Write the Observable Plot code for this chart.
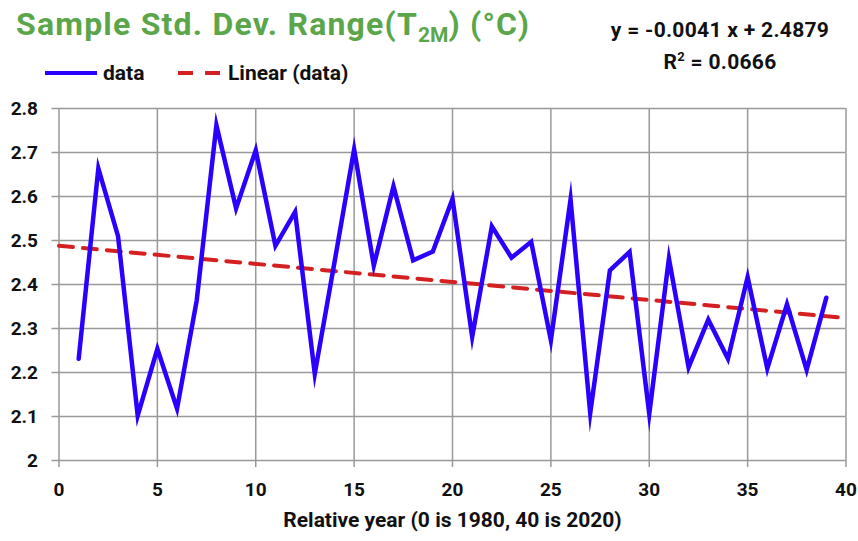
<!DOCTYPE html>
<html><head><meta charset="utf-8">
<script src="https://cdn.jsdelivr.net/npm/d3@7"></script>
<script src="https://cdn.jsdelivr.net/npm/@observablehq/plot@0.6"></script>
<style>
body{margin:0;background:#fff;font-family:"Roboto",sans-serif;}
#wrap{position:relative;width:858px;height:541px;}
#head{position:relative;height:95px;}
.title{position:absolute;left:16px;top:5px;font-size:32px;letter-spacing:1.2px;font-weight:bold;color:#5ba64a;white-space:nowrap;line-height:38px;}
.title sub{font-size:21px;vertical-align:-7px;line-height:0;letter-spacing:0;}
.eq{position:absolute;left:595px;width:250px;text-align:center;font-size:21px;letter-spacing:0.3px;font-weight:bold;color:#111;white-space:nowrap;line-height:24px;}
.leg{position:absolute;top:61px;font-size:21px;font-weight:bold;color:#111;display:flex;align-items:center;white-space:nowrap;line-height:24px;}
.leg svg{margin-right:6px;}
</style></head>
<body>
<div id="wrap">
<div id="head">
  <div class="title">Sample Std. Dev. Range(T<sub>2M</sub>) (°C)</div>
  <div class="eq" style="top:18px">y = -0.0041 x + 2.4879</div>
  <div class="eq" style="top:50px">R<sup style="font-size:13px;vertical-align:8px;line-height:0">2</sup> = 0.0666</div>
  <div class="leg" style="left:45px"><svg width="52" height="10"><line x1="0" y1="5" x2="52" y2="5" stroke="#2a00ff" stroke-width="4"/></svg>data</div>
  <div class="leg" style="left:178px"><svg width="44" height="10"><line x1="0" y1="5" x2="44" y2="5" stroke="#d42020" stroke-width="4" stroke-dasharray="15,12"/></svg>Linear (data)</div>
</div>
<div id="chart"></div>
</div>
<script>
const years = [1,2,3,4,5,6,7,8,9,10,11,12,13,14,15,16,17,18,19,20,21,22,23,24,25,26,27,28,29,30,31,32,33,34,35,36,37,38,39];
const values = [2.231,2.664,2.510,2.102,2.254,2.118,2.364,2.762,2.573,2.705,2.488,2.565,2.197,2.450,2.707,2.443,2.623,2.455,2.475,2.595,2.281,2.532,2.461,2.497,2.273,2.593,2.108,2.432,2.474,2.106,2.459,2.212,2.320,2.231,2.417,2.209,2.355,2.206,2.370];
const trendX = [0, 40];
const trendY = [2.4879, 2.3239];
const xTicks = [0,5,10,15,20,25,30,35,40];
const yTicks = [2,2.1,2.2,2.3,2.4,2.5,2.6,2.7,2.8];
const yTickLabels = ["2","2.1","2.2","2.3","2.4","2.5","2.6","2.7","2.8"];
const xTitle = "Relative year (0 is 1980, 40 is 2020)";

const data = years.map((x,i)=>({x, y: values[i]}));
const trend = trendX.map((x,i)=>({x, y: trendY[i]}));

const chart = Plot.plot({
  width: 858, height: 446,
  marginTop: 13, marginBottom: 81, marginLeft: 58.5, marginRight: 12.5,
  style: {fontFamily: '"Roboto",sans-serif', fontSize: "19px", fontWeight: "bold", color: "#111", background: "#fff"},
  x: {domain: [0, 40]},
  y: {domain: [2, 2.8]},
  marks: [
    Plot.gridX(xTicks, {stroke: "#999", strokeOpacity: 1, strokeWidth: 1.5}),
    Plot.gridY(yTicks, {stroke: "#999", strokeOpacity: 1, strokeWidth: 1.5}),
    Plot.axisX({ticks: xTicks, tickFormat: d => String(d), tickSize: 7, tickPadding: 15, stroke: "#999", strokeWidth: 1.5, label: null, fontSize: 19}),
    Plot.axisY({ticks: yTicks, tickFormat: (d, i) => yTickLabels[yTicks.indexOf(d)], tickSize: 7, tickPadding: 14, stroke: "#999", strokeWidth: 1.5, label: null, fontSize: 19}),
    Plot.text([xTitle], {text: d => d, frameAnchor: "bottom", lineAnchor: "middle", dy: 60, fontSize: 21, fontWeight: "bold", fill: "#111"}),
    Plot.line(trend, {x: "x", y: "y", stroke: "#d42020", strokeWidth: 4, strokeDasharray: "14,10"}),
    Plot.line(data, {x: "x", y: "y", stroke: "#2a00ff", strokeWidth: 4.5, strokeLinejoin: "miter", strokeMiterlimit: 10})
  ]
});
document.getElementById("chart").appendChild(chart);
</script>
</body></html>
